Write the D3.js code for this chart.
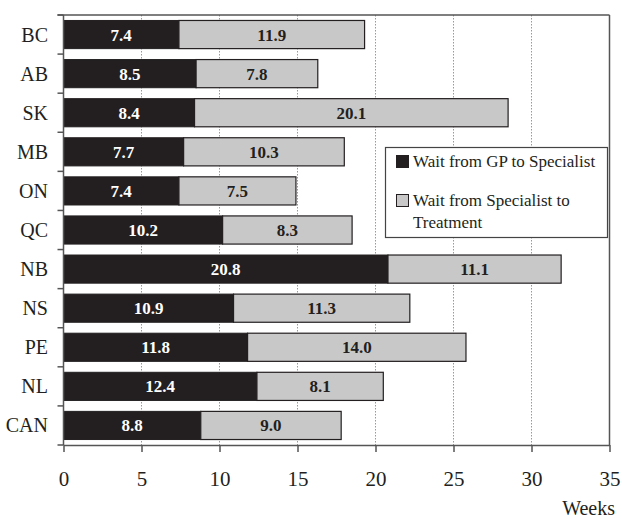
<!DOCTYPE html>
<html>
<head>
<meta charset="utf-8">
<script src="https://cdn.jsdelivr.net/npm/d3@7"></script>
<style>
  html, body { margin: 0; padding: 0; background: #fff; }
  svg text { font-family: "Liberation Serif", "DejaVu Serif", serif; }
</style>
</head>
<body>
<svg id="chart" width="622" height="519"></svg>
<script>
// Wait times in weeks by province
const provinces = ["BC", "AB", "SK", "MB", "ON", "QC", "NB", "NS", "PE", "NL", "CAN"];
const gpToSpecialist = [7.4, 8.5, 8.4, 7.7, 7.4, 10.2, 20.8, 10.9, 11.8, 12.4, 8.8];
const specialistToTreatment = [11.9, 7.8, 20.1, 10.3, 7.5, 8.3, 11.1, 11.3, 14.0, 8.1, 9.0];
const xTicks = [0, 5, 10, 15, 20, 25, 30, 35];
const seriesNames = ["Wait from GP to Specialist", "Wait from Specialist to Treatment"];
const seriesColors = ["#231f20", "#c8c8c8"];

const svg = d3.select("#chart");
const margin = { left: 63.5, right: 12.5, top: 15, bottom: 74 };
const W = 622, H = 519;

const x = d3.scaleLinear().domain([0, 35]).range([margin.left, W - margin.right]);
const y = d3.scaleBand().domain(provinces).range([margin.top, H - margin.bottom]).paddingInner(0.28).paddingOuter(0.14);

const plotTop = margin.top, plotBottom = H - margin.bottom;
const frameColor = "#555";

// dotted vertical gridlines
svg.append("g").selectAll("line")
  .data(xTicks.filter(d => d > 0 && d < 35))
  .join("line")
  .attr("x1", d => x(d)).attr("x2", d => x(d))
  .attr("y1", plotTop).attr("y2", plotBottom)
  .attr("stroke", "#999").attr("stroke-width", 1)
  .attr("stroke-dasharray", "1.5,1.5");

// stacked bars
const rows = provinces.map((p, i) => ({
  p, a: gpToSpecialist[i], b: specialistToTreatment[i]
}));

const bars = svg.append("g");
rows.forEach(r => {
  const y0 = y(r.p), h = y.bandwidth();
  bars.append("rect")
    .attr("x", x(0)).attr("y", y0)
    .attr("width", x(r.a) - x(0)).attr("height", h)
    .attr("fill", seriesColors[0]).attr("stroke", "#231f20").attr("stroke-width", 1);
  bars.append("rect")
    .attr("x", x(r.a)).attr("y", y0)
    .attr("width", x(r.a + r.b) - x(r.a)).attr("height", h)
    .attr("fill", seriesColors[1]).attr("stroke", "#231f20").attr("stroke-width", 1.2);
  bars.append("text")
    .attr("x", (x(0) + x(r.a)) / 2).attr("y", y0 + h / 2 + 6)
    .attr("text-anchor", "middle").attr("font-size", 17).attr("font-weight", "bold")
    .attr("fill", "#fff").text(r.a.toFixed(1));
  bars.append("text")
    .attr("x", (x(r.a) + x(r.a + r.b)) / 2).attr("y", y0 + h / 2 + 6)
    .attr("text-anchor", "middle").attr("font-size", 17).attr("font-weight", "bold")
    .attr("fill", "#231f20").text(r.b.toFixed(1));
});

// frame: top and right edges
svg.append("line").attr("x1", margin.left - 6).attr("x2", x(35))
  .attr("y1", plotTop).attr("y2", plotTop).attr("stroke", frameColor).attr("stroke-width", 1.5);
svg.append("line").attr("x1", x(35)).attr("x2", x(35))
  .attr("y1", plotTop).attr("y2", plotBottom).attr("stroke", frameColor).attr("stroke-width", 1.5);

// y axis with ticks between categories
svg.append("line").attr("x1", x(0)).attr("x2", x(0))
  .attr("y1", plotTop).attr("y2", plotBottom).attr("stroke", frameColor).attr("stroke-width", 1.5);
const step = (plotBottom - plotTop) / provinces.length;
svg.append("g").selectAll("line")
  .data(d3.range(provinces.length + 1))
  .join("line")
  .attr("x1", x(0) - 6).attr("x2", x(0))
  .attr("y1", i => plotTop + i * step).attr("y2", i => plotTop + i * step)
  .attr("stroke", frameColor).attr("stroke-width", 1.5);
svg.append("g").selectAll("text")
  .data(provinces)
  .join("text")
  .attr("x", 48).attr("y", d => y(d) + y.bandwidth() / 2 + 7)
  .attr("text-anchor", "end").attr("font-size", 20).attr("fill", "#231f20")
  .text(d => d);

// x axis
const xAxis = svg.append("g").attr("transform", `translate(0,${plotBottom})`)
  .call(d3.axisBottom(x).tickValues(xTicks).tickSize(7).tickPadding(19).tickSizeOuter(0));
xAxis.select(".domain").attr("stroke", frameColor).attr("stroke-width", 1.5);
xAxis.selectAll(".tick line").attr("stroke", frameColor).attr("stroke-width", 1.5);
xAxis.selectAll(".tick text")
  .attr("font-family", "Liberation Serif, DejaVu Serif, serif")
  .attr("font-size", 21).attr("fill", "#231f20");

svg.append("text").attr("x", 615).attr("y", 515)
  .attr("text-anchor", "end").attr("font-size", 20).attr("fill", "#231f20")
  .text("Weeks");

// legend
const lg = svg.append("g");
lg.append("rect").attr("x", 385.5).attr("y", 147.5).attr("width", 222).attr("height", 90)
  .attr("fill", "#fff").attr("stroke", "#444").attr("stroke-width", 1.2);
lg.append("rect").attr("x", 396.5).attr("y", 155.5).attr("width", 12).attr("height", 12)
  .attr("fill", seriesColors[0]).attr("stroke", "#231f20");
lg.append("rect").attr("x", 396.5).attr("y", 194.5).attr("width", 12).attr("height", 12)
  .attr("fill", seriesColors[1]).attr("stroke", "#231f20");
lg.append("text").attr("x", 413).attr("y", 167).attr("font-size", 17).attr("fill", "#231f20")
  .text(seriesNames[0]);
const t2 = lg.append("text").attr("x", 413).attr("y", 206).attr("font-size", 17).attr("fill", "#231f20");
t2.append("tspan").attr("x", 413).text("Wait from Specialist to");
t2.append("tspan").attr("x", 413).attr("dy", 22).text("Treatment");
</script>
</body>
</html>
